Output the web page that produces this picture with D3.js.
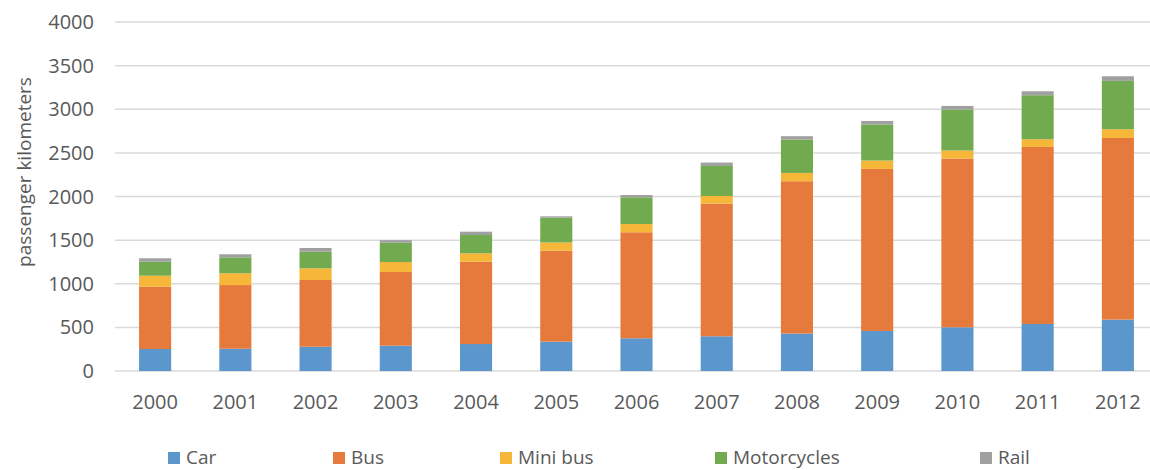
<!DOCTYPE html>
<html lang="en">
<head>
<meta charset="utf-8">
<title>Passenger kilometers by mode</title>
<script src="https://d3js.org/d3.v7.min.js"></script>
<style>
  body { margin: 0; background: #fff; }
  text { font-family: "Open Sans", sans-serif; fill: #595959; }
</style>
</head>
<body>
<script>
// data
const years = ["2000","2001","2002","2003","2004","2005","2006","2007","2008","2009","2010","2011","2012"];
const car         = [252, 255, 278, 290, 309, 336, 375, 398, 429, 459, 501, 539, 589];
const bus         = [714, 730, 765, 845, 944, 1043, 1215, 1521, 1746, 1857, 1934, 2029, 2082];
const miniBus     = [126, 135, 134, 114, 96, 94, 95, 87, 95, 96, 92, 88, 100];
const motorcycles = [161, 183, 190, 221, 210, 285, 306, 344, 383, 413, 470, 505, 554];
const rail        = [39, 35, 43, 30, 38, 15, 26, 39, 38, 41, 41, 45, 53];
const seriesNames = ["Car", "Bus", "Mini bus", "Motorcycles", "Rail"];
const yTicks = [0, 500, 1000, 1500, 2000, 2500, 3000, 3500, 4000];

const colors = ["#5b96cc", "#e57a3c", "#f6b637", "#72ab4f", "#a0a0a0"];

const w = 1150, h = 470;
const margin = {left: 115, right: -8, top: 22, bottom: 99};

// build rows for d3.stack
const cols = [car, bus, miniBus, motorcycles, rail];
const rows = years.map(function(y, i) {
  let r = {year: y};
  seriesNames.forEach(function(s, j) { r[s] = cols[j][i]; });
  return r;
});

const stacked = d3.stack().keys(seriesNames)(rows);

const svg = d3.select("body").append("svg")
  .attr("width", w)
  .attr("height", h);

const x = d3.scaleBand()
  .domain(years)
  .range([margin.left, w - margin.right])
  .paddingInner(0.6)
  .paddingOuter(0.3);

const y = d3.scaleLinear()
  .domain([0, 4000])
  .range([h - margin.bottom, margin.top]);

// gridlines
svg.append("g")
  .selectAll("line")
  .data(yTicks)
  .enter()
  .append("line")
  .attr("x1", margin.left)
  .attr("x2", w)
  .attr("y1", function(d) { return y(d); })
  .attr("y2", function(d) { return y(d); })
  .style("stroke", "#d9d9d9")
  .style("stroke-width", 1.5);

// y tick labels
svg.append("g")
  .selectAll("text")
  .data(yTicks)
  .enter()
  .append("text")
  .attr("x", 94)
  .attr("y", function(d) { return y(d); })
  .attr("dy", "0.35em")
  .attr("text-anchor", "end")
  .style("font-size", "20px")
  .text(function(d) { return d; });

// axis title
svg.append("text")
  .attr("transform", "translate(31,172) rotate(-90)")
  .attr("text-anchor", "middle")
  .style("font-size", "19px")
  .text("passenger kilometers");

// bars
svg.append("g")
  .selectAll("g")
  .data(stacked)
  .enter()
  .append("g")
  .style("fill", function(d, i) { return colors[i]; })
  .selectAll("rect")
  .data(function(d) { return d; })
  .enter()
  .append("rect")
  .attr("x", function(d) { return x(d.data.year); })
  .attr("width", x.bandwidth())
  .attr("y", function(d) { return y(d[1]); })
  .attr("height", function(d) { return y(d[0]) - y(d[1]); });

// x labels
svg.append("g")
  .selectAll("text")
  .data(years)
  .enter()
  .append("text")
  .attr("x", function(d) { return x(d) + x.bandwidth() / 2; })
  .attr("y", 409)
  .attr("text-anchor", "middle")
  .style("font-size", "20px")
  .text(function(d) { return d; });

// legend
const legendX = [168, 333, 500, 715, 980];
let legend = svg.append("g")
  .selectAll("g")
  .data(seriesNames)
  .enter()
  .append("g")
  .attr("transform", function(d, i) { return "translate(" + legendX[i] + ",457)"; });

legend.append("rect")
  .attr("x", 0)
  .attr("y", -5)
  .attr("width", 12)
  .attr("height", 12)
  .style("fill", function(d, i) { return colors[i]; });

legend.append("text")
  .attr("x", 18)
  .attr("dy", "0.35em")
  .style("font-size", "19px")
  .text(function(d) { return d; });
</script>
</body>
</html>
